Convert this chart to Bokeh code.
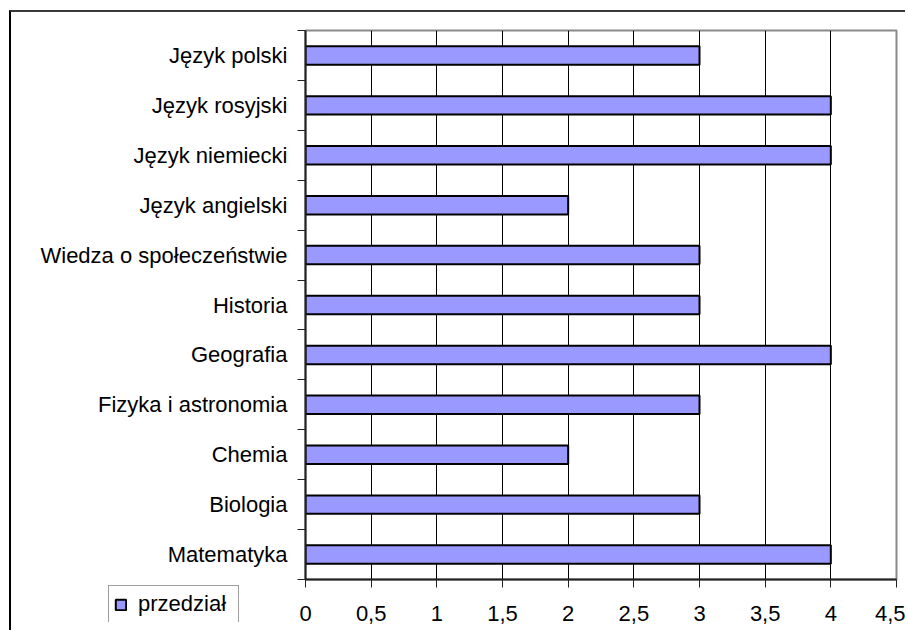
from bokeh.plotting import figure
from bokeh.layouts import column
from bokeh.models import FixedTicker, Legend, LegendItem, ColumnDataSource
from bokeh.embed import file_html
from bokeh.resources import INLINE

# Categories listed bottom-to-top (as drawn on the y axis)
categories = ["Matematyka", "Biologia", "Chemia", "Fizyka i astronomia", "Geografia",
              "Historia", "Wiedza o społeczeństwie", "Język angielski", "Język niemiecki",
              "Język rosyjski", "Język polski"]
values = [4, 3, 2, 3, 4, 3, 3, 2, 4, 4, 3]
series_name = "przedział"
x_ticks = [0, 0.5, 1, 1.5, 2, 2.5, 3, 3.5, 4, 4.5]
x_tick_labels = ["0", "0,5", "1", "1,5", "2", "2,5", "3", "3,5", "4", "4,5"]

FONT = "Liberation Sans"
FS = "22px"
BAR_FILL = "#9999FF"

ys = [i + 0.5 for i in range(len(categories))]
bounds = list(range(len(categories) + 1))
source = ColumnDataSource(dict(y=ys, value=values, cat=categories))

p = figure(width=896, height=620, x_range=(0, 4.5), y_range=(0, len(categories)),
           output_backend="svg", toolbar_location=None,
           min_border_left=294, min_border_top=18, min_border_right=11, min_border_bottom=53)
p.styles = {"border-top": "2px solid #3a3a3a", "border-left": "2px solid #000000"}
p.margin = (10, 0, 0, 9)

r = p.hbar(y="y", right="value", left=0, height=0.37, source=source,
           fill_color=BAR_FILL, line_color="black", line_width=2)

# y axis: labels at category centres, tick marks at category boundaries
p.yaxis.ticker = FixedTicker(ticks=ys, minor_ticks=bounds)
p.yaxis.major_label_overrides = {y: c for y, c in zip(ys, categories)}
p.yaxis.major_tick_out = 0
p.yaxis.major_tick_in = 0
p.yaxis.minor_tick_out = 8
p.yaxis.minor_tick_in = 0
p.yaxis.minor_tick_line_color = "#222222"
p.yaxis.major_label_standoff = 10

# x axis
p.xaxis.ticker = FixedTicker(ticks=x_ticks, minor_ticks=[])
p.xaxis.major_label_overrides = {t: l for t, l in zip(x_ticks, x_tick_labels)}
p.xaxis.major_tick_out = 8
p.xaxis.major_tick_in = 0
p.xaxis.major_label_standoff = 18

for ax in (p.xaxis, p.yaxis):
    ax.axis_line_color = "#222222"
    ax.axis_line_width = 2
    ax.major_tick_line_color = "#222222"
    ax.major_label_text_font = FONT
    ax.major_label_text_font_size = FS
    ax.major_label_text_color = "black"

p.xgrid.ticker = FixedTicker(ticks=x_ticks, minor_ticks=[])
p.xgrid.grid_line_color = "black"
p.xgrid.grid_line_width = 1
p.ygrid.grid_line_color = None

p.outline_line_color = "#8a8a8a"
p.outline_line_width = 2

# Legend box (sits outside the plot area, bottom-left), in a small overlaid figure
lf = figure(width=130, height=37, x_range=(10, 11), y_range=(0, len(categories)),
            x_axis_type=None, y_axis_type=None, output_backend="svg",
            toolbar_location=None, min_border=0)
lf.grid.visible = False
lf.outline_line_color = None
lf.background_fill_color = "white"
lf.border_fill_color = "white"
lf.margin = (-45, 0, 0, 108)
lr = lf.hbar(y="y", right="value", left=0, height=0.37, source=source,
             fill_color=BAR_FILL, line_color="black", line_width=2)

legend = Legend(items=[LegendItem(label=series_name, renderers=[lr])],
                location="top_left")
legend.label_text_font = FONT
legend.label_text_font_size = FS
legend.label_text_color = "black"
legend.glyph_width = 13
legend.glyph_height = 13
legend.label_standoff = 11
legend.label_width = 95
legend.padding = 5
legend.margin = 0
legend.spacing = 0
legend.border_line_color = "#404040"
legend.border_line_width = 1
legend.background_fill_color = "white"
legend.background_fill_alpha = 1
lf.add_layout(legend)

layout = column(p, lf)
open("out.html", "w").write(file_html(layout, INLINE))
